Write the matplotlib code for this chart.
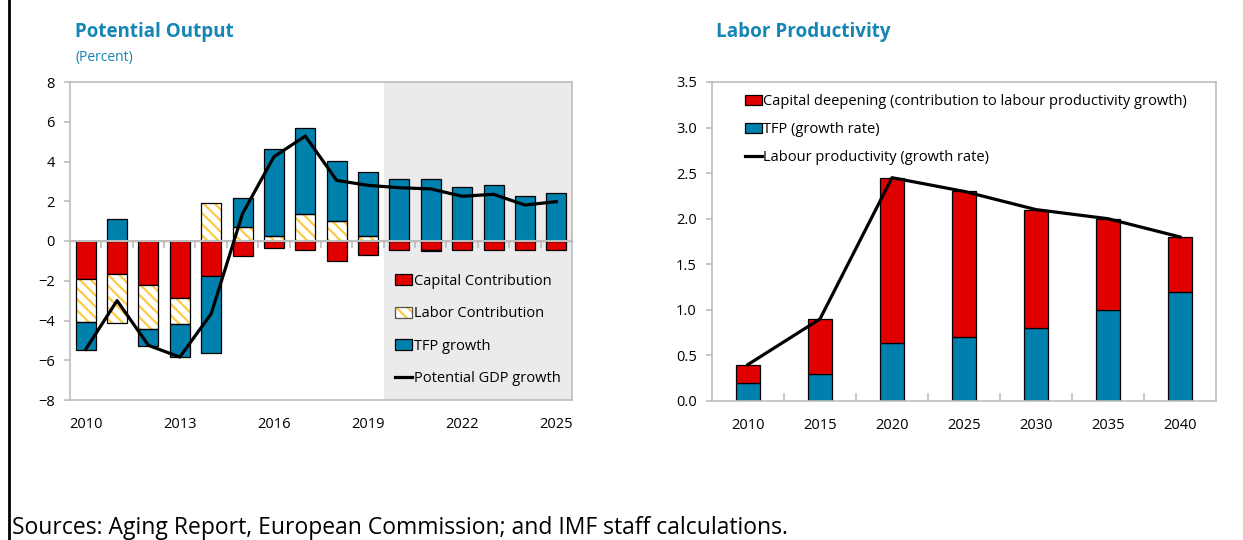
import matplotlib
matplotlib.use("Agg")
import matplotlib.pyplot as plt
from matplotlib.patches import Patch
from matplotlib.lines import Line2D
from matplotlib.legend_handler import HandlerTuple
import numpy as np

plt.rcParams['font.family'] = ['Open Sans', 'DejaVu Sans']
plt.rcParams['hatch.linewidth'] = 1.6

# ---------------- data: Potential Output ----------------
years_po = [2010, 2011, 2012, 2013, 2014, 2015, 2016, 2017, 2018, 2019,
            2020, 2021, 2022, 2023, 2024, 2025]
capital_po = [-1.9, -1.68, -2.23, -2.85, -1.74, -0.77, -0.35, -0.43, -1.0, -0.68,
              -0.47, -0.47, -0.47, -0.47, -0.47, -0.47]
labor_po = [-2.18, -2.46, -2.22, -1.34, 1.93, 0.70, 0.26, 1.38, 1.03, 0.26,
            0.0, -0.05, 0.0, 0.0, 0.0, 0.0]
tfp_po = [-1.38, 1.13, -0.84, -1.63, -3.89, 1.48, 4.37, 4.32, 3.0, 3.23,
          3.13, 3.10, 2.72, 2.82, 2.27, 2.44]
gdp_po = [-5.45, -3.0, -5.25, -5.84, -3.66, 1.38, 4.24, 5.28, 3.05, 2.8,
          2.68, 2.62, 2.25, 2.35, 1.81, 1.98]
projection_start_po = 2020
xtick_years_po = [2010, 2013, 2016, 2019, 2022, 2025]

# ---------------- data: Labor Productivity ----------------
years_lp = ['2010', '2015', '2020', '2025', '2030', '2035', '2040']
tfp_lp = [0.2, 0.3, 0.64, 0.7, 0.8, 1.0, 1.2]
capital_lp = [0.2, 0.6, 1.81, 1.6, 1.3, 1.0, 0.6]
labprod_lp = [0.4, 0.9, 2.45, 2.3, 2.1, 2.0, 1.8]

RED = '#e00000'
BLUE = '#0081ad'
HATCH = '#fdca45'
GRID = '#bdbdbd'
TITLE = '#1585b5'

fig = plt.figure(figsize=(12.43, 5.40), dpi=100)
W, H = 1243, 540

def ax_rect(x0, y0, x1, y1):
    return [x0 / W, 1 - y1 / H, (x1 - x0) / W, (y1 - y0) / H]

# ================= Left chart =================
ax1 = fig.add_axes(ax_rect(70, 82, 572, 400))
x = np.arange(len(years_po))
bw = 0.64

cap = np.array(capital_po)
lab = np.array(labor_po)
tfp = np.array(tfp_po)

def stack_bottoms(vals_list):
    pos = np.zeros(len(vals_list[0]))
    neg = np.zeros(len(vals_list[0]))
    out = []
    for v in vals_list:
        b = np.where(v >= 0, pos, neg)
        out.append(b)
        pos = pos + np.where(v >= 0, v, 0)
        neg = neg + np.where(v < 0, v, 0)
    return out

b_cap, b_lab, b_tfp = stack_bottoms([cap, lab, tfp])

proj_i = years_po.index(projection_start_po)
ax1.axvspan(proj_i - 0.5, len(years_po) - 0.5, color='#ebebeb', zorder=0, lw=0)

ax1.bar(x, cap, bw, bottom=b_cap, color=RED, edgecolor='black', lw=0.9, zorder=2)
ax1.bar(x, lab, bw, bottom=b_lab, facecolor='white', edgecolor=HATCH, hatch='\\\\\\',
        lw=0, zorder=2)
ax1.bar(x, lab, bw, bottom=b_lab, fill=False, edgecolor='black', lw=0.9, zorder=2.1)
ax1.bar(x, tfp, bw, bottom=b_tfp, color=BLUE, edgecolor='black', lw=0.9, zorder=2)
ax1.axhline(0, color=GRID, lw=1.5, zorder=2.5)
ax1.plot(x, gdp_po, color='black', lw=2.3, zorder=4)

ax1.set_xlim(-0.5, len(years_po) - 0.5)
ax1.set_ylim(-8, 8)
ax1.set_yticks(np.arange(-8, 9, 2))
ax1.set_xticks([years_po.index(y) for y in xtick_years_po])
ax1.set_xticklabels([str(y) for y in xtick_years_po])
ax1.tick_params(axis='x', length=0, pad=12, labelsize=10.5)
ax1.tick_params(axis='y', length=4, color=GRID, width=1.2, pad=7, labelsize=10.5)
for sp in ax1.spines.values():
    sp.set_color(GRID)
    sp.set_linewidth(1.2)

sec = ax1.secondary_xaxis(0.5)
sec.set_xticks(x[:-1] + 0.5)
sec.set_xticklabels([])
sec.tick_params(direction='in', length=5, color=GRID, width=1.2)
sec.spines['bottom'].set_visible(False)

h_cap = Patch(facecolor=RED, edgecolor='black', lw=0.9)
h_lab = (Patch(facecolor='white', edgecolor=HATCH, hatch='\\\\\\', lw=0),
         Patch(fill=False, edgecolor='#555555', lw=0.9))
h_tfp = Patch(facecolor=BLUE, edgecolor='black', lw=0.9)
h_line = Line2D([], [], color='black', lw=2.3)
ax1.legend([h_cap, h_lab, h_tfp, h_line],
           ['Capital Contribution', 'Labor Contribution', 'TFP growth', 'Potential GDP growth'],
           handler_map={tuple: HandlerTuple(ndivide=1)},
           loc='lower left', bbox_to_anchor=(0.648, 0.043), frameon=False,
           fontsize=10.5, handlelength=1.15, handleheight=0.75, handletextpad=0.1,
           labelspacing=1.2, borderpad=0, borderaxespad=0)

fig.text(75 / W, 1 - 32 / H, 'Potential Output', color=TITLE, fontsize=13.5,
         fontweight='bold', va='center', ha='left')
fig.text(75 / W, 1 - 57 / H, '(Percent)', color=TITLE, fontsize=10,
         va='center', ha='left')

# ================= Right chart =================
ax2 = fig.add_axes(ax_rect(712, 82, 1216, 401))
xr = np.arange(len(years_lp))
bw2 = 0.32
ax2.bar(xr, tfp_lp, bw2, color=BLUE, edgecolor='black', lw=0.9, zorder=2)
ax2.bar(xr, capital_lp, bw2, bottom=tfp_lp, color=RED, edgecolor='black', lw=0.9, zorder=2)
ax2.plot(xr, labprod_lp, color='black', lw=2.3, zorder=4)

ax2.set_xlim(-0.5, len(years_lp) - 0.5)
ax2.set_ylim(0, 3.5)
ax2.set_yticks(np.arange(0, 3.51, 0.5))
ax2.set_yticklabels([f'{v:.1f}' for v in np.arange(0, 3.51, 0.5)])
ax2.set_xticks(xr)
ax2.set_xticklabels(years_lp)
ax2.set_xticks(xr[:-1] + 0.5, minor=True)
ax2.tick_params(axis='x', which='major', length=0, pad=12, labelsize=10.5)
ax2.tick_params(axis='x', which='minor', direction='in', length=6, color=GRID, width=1.2)
ax2.tick_params(axis='y', length=4, color=GRID, width=1.2, pad=7, labelsize=10.5)
for sp in ax2.spines.values():
    sp.set_color(GRID)
    sp.set_linewidth(1.2)

h2_cap = Patch(facecolor=RED, edgecolor='black', lw=0.9)
h2_tfp = Patch(facecolor=BLUE, edgecolor='black', lw=0.9)
h2_line = Line2D([], [], color='black', lw=2.3)
ax2.legend([h2_cap, h2_tfp, h2_line],
           ['Capital deepening (contribution to labour productivity growth)',
            'TFP (growth rate)', 'Labour productivity (growth rate)'],
           loc='upper left', bbox_to_anchor=(0.065, 0.962), frameon=False,
           fontsize=10.5, handlelength=1.15, handleheight=0.75, handletextpad=0.1,
           labelspacing=0.88, borderpad=0, borderaxespad=0)

fig.text(716 / W, 1 - 32 / H, 'Labor Productivity', color=TITLE, fontsize=13.6,
         fontweight='bold', va='center', ha='left')

# ================= Sources + frame line =================
fig.text(12 / W, 1 - 528 / H,
         'Sources: Aging Report, European Commission; and IMF staff calculations.',
         fontsize=16.5, color='black', va='center', ha='left')
fig.add_artist(Line2D([8.5 / W, 8.5 / W], [0, 1], transform=fig.transFigure,
                      color='black', lw=2))

fig.savefig('out.png', dpi=100)
